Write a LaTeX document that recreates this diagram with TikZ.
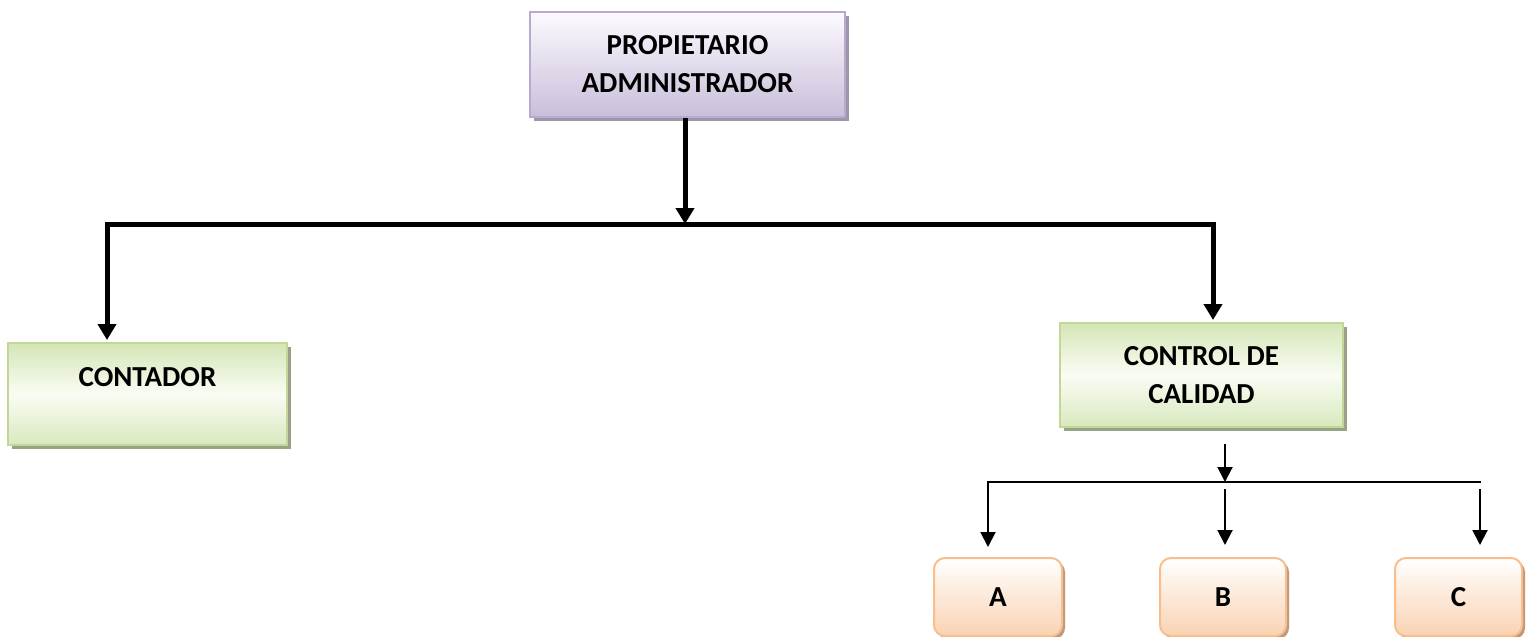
\documentclass[tikz,border=0pt]{standalone}
\usepackage{fontspec}
\setmainfont{Carlito}
\usetikzlibrary{arrows.meta,shadows}
\definecolor{pTop}{RGB}{252,250,254}
\definecolor{pBot}{RGB}{202,190,218}
\definecolor{pBorder}{RGB}{184,170,206}
\definecolor{pShadow}{RGB}{160,150,172}
\definecolor{gTop}{RGB}{212,230,182}
\definecolor{gMid}{RGB}{250,252,244}
\definecolor{gBot}{RGB}{216,233,190}
\definecolor{gBorder}{RGB}{195,216,152}
\definecolor{gShadow}{RGB}{152,162,132}
\definecolor{oTop}{RGB}{255,255,255}
\definecolor{oBot}{RGB}{250,210,178}
\definecolor{oBorder}{RGB}{250,190,140}
\definecolor{oShadow}{RGB}{192,152,122}
\tikzset{
  txt/.style={font=\fontsize{29}{38}\selectfont\bfseries, align=center, text=black},
  pbox/.style={txt, draw=pBorder, line width=2pt, top color=pTop, bottom color=pBot,
    drop shadow={shadow xshift=4pt, shadow yshift=-4pt, fill=pShadow, opacity=1}, inner sep=0pt},
  gbox/.style={txt, draw=gBorder, line width=2pt, top color=gTop, bottom color=gBot, middle color=gMid,
    drop shadow={shadow xshift=4pt, shadow yshift=-4pt, fill=gShadow, opacity=1}, inner sep=0pt},
  obox/.style={txt, draw=oBorder, line width=2pt, rounded corners=11pt, top color=oTop, bottom color=oBot,
    drop shadow={shadow xshift=3pt, shadow yshift=-3pt, fill=oShadow, opacity=1}, inner sep=0pt,
    minimum height=78pt},
  bigline/.style={line width=5pt, black},
  bigarrow/.style={bigline, -{Triangle[width=18pt,length=16pt]}},
  smallline/.style={line width=2pt, black},
  smallarrow/.style={smallline, -{Triangle[width=15pt,length=15pt]}},
}
\begin{document}
\begin{tikzpicture}[x=1pt,y=-1pt]
\useasboundingbox (0,0) rectangle (1527,637);
\node[pbox, minimum width=315pt, minimum height=105pt] (top) at (687.5,64.5) {PROPIETARIO\\ADMINISTRADOR};
\node[gbox, minimum width=279pt, minimum height=102pt,
  label={[txt, yshift=17pt]center:CONTADOR}] (cont) at (147.5,394) {};
\node[gbox, minimum width=283pt, minimum height=104pt] (ctrl) at (1201.5,375) {CONTROL DE\\CALIDAD};
\node[obox, minimum width=128pt] (a) at (998,597) {A};
\node[obox, minimum width=126pt] (b) at (1223,597) {B};
\node[obox, minimum width=127pt] (c) at (1458.5,597) {C};
% main connectors
\coordinate (j) at (685,224);
\coordinate (jl) at (107,224);
\coordinate (jr) at (1213,224);
\draw[bigarrow] (j |- top.south) -- (j);
\draw[bigline] ([xshift=-2.5pt]jl) -- ([xshift=2.5pt]jr);
\draw[bigarrow] (jl) -- ([yshift=2pt]jl |- cont.north);
\draw[bigarrow] (jr) -- ([yshift=2pt]jr |- ctrl.north);
% secondary connectors
\coordinate (s0) at (1225,444);
\coordinate (s) at (1225,482);
\coordinate (sl) at (988,482);
\coordinate (sr) at (1481,482);
\coordinate (cr) at (1480,489);
\draw[smallarrow] (s0) -- (s);
\draw[smallline] ([xshift=-1pt]sl) -- (sr);
\draw[smallarrow] (sl) -- ([yshift=10pt]sl |- a.north);
\draw[smallarrow] ([yshift=-7pt]s) -- ([yshift=12pt]s |- b.north);
\draw[smallarrow] (cr) -- ([yshift=12pt]cr |- c.north);
\end{tikzpicture}
\end{document}
